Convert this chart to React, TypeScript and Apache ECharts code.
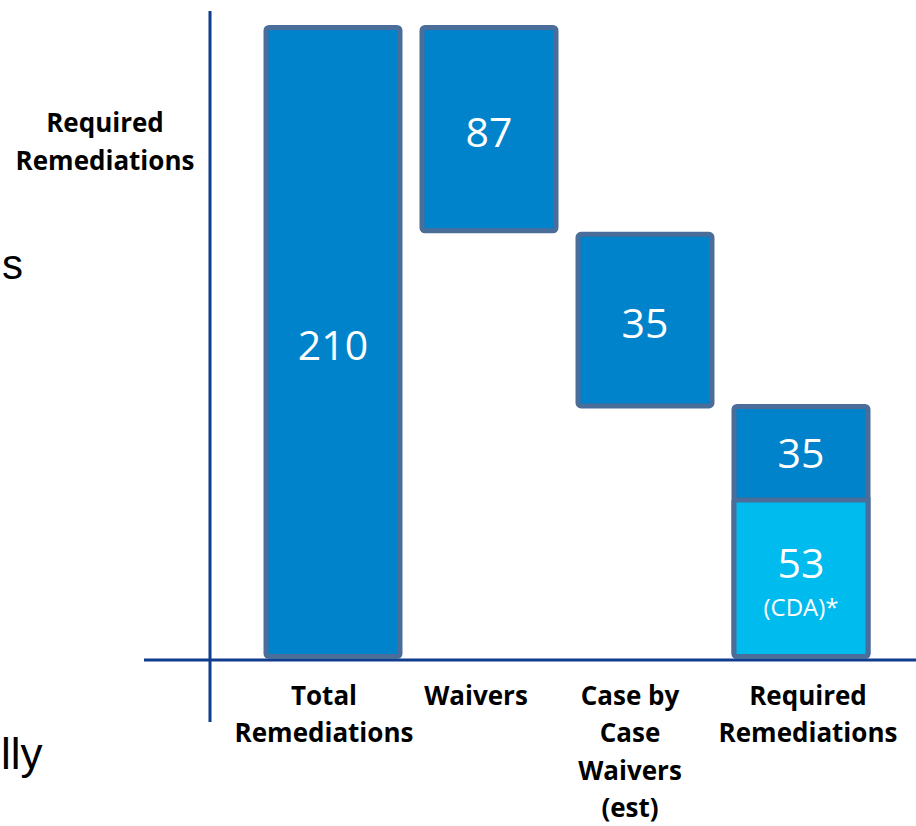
import React, { useEffect, useRef } from 'react';
import * as echarts from 'echarts';

// Categories and the numbers printed on the bars
const categories = ['Total\nRemediations', 'Waivers', 'Case by\nCase\nWaivers\n(est)', 'Required\nRemediations'];
const stepValues = [210, 87, 35, 35];
const requiredCdaValue = 53;

// Extents as drawn on the slide's (not-to-scale) hidden vertical axis
const drawnBase = [0, 141, 83, 0];
const drawnStep = [210, 69, 58.5, 84.5];
const drawnCda = ['-', '-', '-', 53.5];

const DARK = '#0083CA';
const LIGHT = '#00BBEE';
const EDGE = '#4A6D99';
const NAVY = '#0F3C8E';

export default function App() {
  const ref = useRef<HTMLDivElement>(null);
  useEffect(() => {
    if (!ref.current) return;
    const chart = echarts.init(ref.current, undefined, { renderer: 'svg' });
    const edge = { borderColor: EDGE, borderWidth: 5, borderRadius: 3 };
    const valueLabel = {
      show: true,
      position: 'inside',
      offset: [0, 2],
      color: '#ffffff',
      fontFamily: 'Open Sans',
      fontSize: 41,
    };
    chart.setOption({
      animation: false,
      backgroundColor: '#ffffff',
      grid: { left: 255, right: 37, top: 25, bottom: 165 },
      xAxis: {
        type: 'category',
        data: categories.map((c, i) => ({
          value: c,
          textStyle: { padding: [[0, 18, 0, 0], [0, 26, 0, 0], [0, 30, 0, 0], [0, 0, 0, 14]][i] },
        })),
        axisLine: { show: false },
        axisTick: { show: false },
        axisLabel: {
          interval: 0,
          margin: 17,
          color: '#000000',
          fontFamily: 'Open Sans',
          fontWeight: 'bold',
          fontSize: 26,
          lineHeight: 37.5,
        },
      },
      yAxis: { type: 'value', min: 0, max: 210, show: false, splitLine: { show: false } },
      series: [
        {
          type: 'bar',
          stack: 'w',
          barWidth: 139,
          name: 'base',
          data: drawnBase,
          itemStyle: { color: 'transparent', borderWidth: 0 },
          emphasis: { disabled: true },
          silent: true,
        },
        {
          type: 'bar',
          stack: 'w',
          barWidth: 139,
          name: 'step',
          data: drawnStep.map((v, i) =>
            i === 3
              ? {
                  value: v,
                  label: { position: ['50%', 48], align: 'center', verticalAlign: 'middle', offset: [0, 0] },
                }
              : v
          ),
          itemStyle: { ...edge, color: DARK },
          label: { ...valueLabel, formatter: (p: any) => String(stepValues[p.dataIndex]) },
        },
        {
          type: 'bar',
          barWidth: 139,
          barGap: '-100%',
          name: 'cda',
          data: drawnCda,
          itemStyle: { ...edge, color: LIGHT, borderRadius: [0, 0, 3, 3] },
          label: {
            show: true,
            position: 'inside',
            offset: [0, 4],
            formatter: () => `{a|${requiredCdaValue}}\n{b|(CDA)*}`,
            rich: {
              a: { color: '#fff', fontFamily: 'Open Sans', fontSize: 41, lineHeight: 48 },
              b: { color: '#fff', fontFamily: 'Open Sans', fontSize: 24, lineHeight: 40 },
            },
          },
        },
      ],
      graphic: [
        {
          type: 'line',
          z: 1,
          shape: { x1: 210, y1: 11, x2: 210, y2: 722 },
          style: { stroke: NAVY, lineWidth: 3 },
        },
        {
          type: 'line',
          z: 1,
          shape: { x1: 144, y1: 660, x2: 916, y2: 660 },
          style: { stroke: NAVY, lineWidth: 3 },
        },
        {
          type: 'text',
          x: 105,
          y: 141,
          style: {
            text: 'Required\nRemediations',
            align: 'center',
            verticalAlign: 'middle',
            fill: '#000',
            font: 'bold 26px "Open Sans"',
            lineHeight: 38,
          },
        },
        {
          type: 'text',
          x: 2,
          y: 264,
          style: { text: 's', verticalAlign: 'middle', fill: '#000', font: '42px "Liberation Sans"' },
        },
        {
          type: 'text',
          x: 1,
          y: 753,
          style: { text: 'lly', verticalAlign: 'middle', fill: '#000', font: '44px "Liberation Sans"' },
        },
      ],
    });
    return () => chart.dispose();
  }, []);
  return <div ref={ref} style={{ width: 916, height: 826, position: 'absolute', left: 0, top: 0 }} />;
}
